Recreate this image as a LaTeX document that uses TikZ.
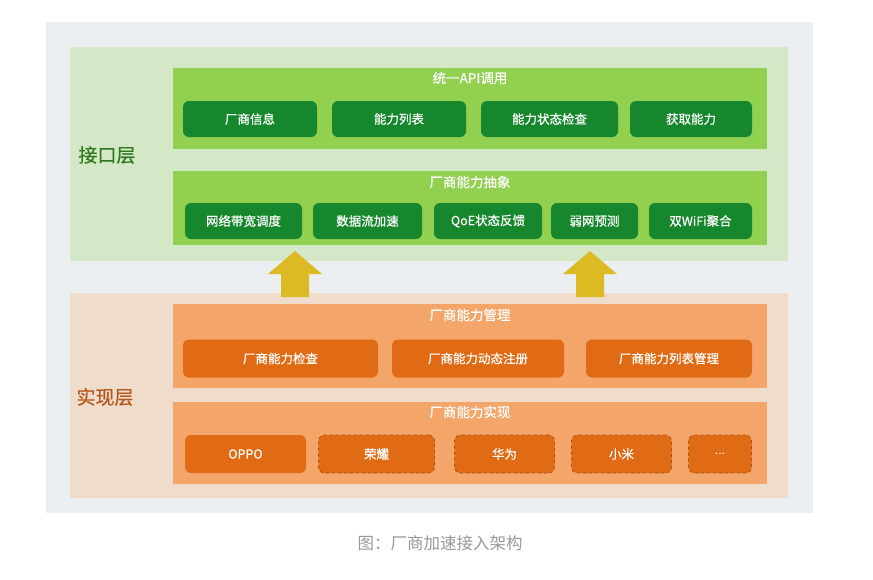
\documentclass[tikz,border=0pt]{standalone}
\usepackage{fontspec}
\setmainfont{Noto Sans CJK SC}
\newfontfamily\boxfont[FakeBold=0.6]{Noto Sans CJK SC}
\newfontfamily\dotfont{Liberation Sans}
\definecolor{pagegray}{HTML}{ECEFF1}
\definecolor{apilayer}{HTML}{D4E7C6}
\definecolor{apipanel}{HTML}{92D050}
\definecolor{apibox}{HTML}{17872D}
\definecolor{apitext}{HTML}{2F7A1F}
\definecolor{implayer}{HTML}{F0DCCB}
\definecolor{imppanel}{HTML}{F3A56A}
\definecolor{impbox}{HTML}{E06B14}
\definecolor{impdash}{HTML}{A9500F}
\definecolor{imptext}{HTML}{B4581A}
\definecolor{liftcol}{HTML}{DBBA24}
\tikzset{
  layer/.style={rectangle, inner sep=0pt},
  panel/.style={rectangle, inner sep=0pt},
  ptitle/.style={text=white, font=\boxfont\fontsize{13.5}{15}\selectfont, anchor=center},
  apicell/.style={rectangle, rounded corners=6pt, fill=apibox, text=white, minimum height=36pt, inner sep=0pt, font=\boxfont\fontsize{12.5}{14}\selectfont},
  impcell/.style={rectangle, rounded corners=6pt, fill=impbox, text=white, minimum height=38pt, inner sep=0pt, font=\boxfont\fontsize{12.5}{14}\selectfont},
  vendorcell/.style={impcell, draw=impdash, dashed, line width=0.8pt},
  layername/.style={font=\boxfont\fontsize{19}{22}\selectfont}
}
\begin{document}
\begin{tikzpicture}[x=1pt, y=-1pt]
    \useasboundingbox[fill=white] (0,0) rectangle (873,579);
    \fill[pagegray] (46,22) rectangle (813,513);

    % Layers
    \node[layer, fill=apilayer, minimum width=718pt, minimum height=214pt] (api) at (429,154) {};
    \node[layer, fill=implayer, minimum width=718pt, minimum height=205pt] (imp) at (429,395.5) {};
    \node[layername, text=apitext] (apiname) at (107,155) {接口层};
    \node[layername, text=imptext] (impname) at (105,397) {实现层};

    % Interface panels
    \node[panel, fill=apipanel, minimum width=594pt, minimum height=81pt] (call) at (470,108.5) {};
    \node[ptitle] (calltitle) at (470,78) {统一API调用};
    \node[apicell, minimum width=134pt] (info) at (250,119) {厂商信息};
    \node[apicell, minimum width=134pt] (list) at (399,119) {能力列表};
    \node[apicell, minimum width=137pt] (check) at (549.5,119) {能力状态检查};
    \node[apicell, minimum width=122pt] (fetch) at (691,119) {获取能力};

    \node[panel, fill=apipanel, minimum width=594pt, minimum height=74pt] (abs) at (470,208) {};
    \node[ptitle] (abstitle) at (470,182) {厂商能力抽象};
    \node[apicell, minimum width=117pt] (band) at (243.5,221) {网络带宽调度};
    \node[apicell, minimum width=109pt] (flow) at (367.5,221) {数据流加速};
    \node[apicell, minimum width=108pt] (qoe) at (488,221) {QoE状态反馈};
    \node[apicell, minimum width=87pt] (weak) at (594.5,221) {弱网预测};
    \node[apicell, minimum width=103pt] (wifi) at (700.5,221) {双WiFi聚合};

    % Implementation panels
    \node[panel, fill=imppanel, minimum width=594pt, minimum height=84pt] (mgr) at (470,346) {};
    \node[ptitle] (mgrtitle) at (470,315) {厂商能力管理};
    \node[impcell, minimum width=195pt] (vcheck) at (280.5,358.5) {厂商能力检查};
    \node[impcell, minimum width=172pt] (vreg) at (478,358.5) {厂商能力动态注册};
    \node[impcell, minimum width=166pt] (vlist) at (669,358.5) {厂商能力列表管理};

    \node[panel, fill=imppanel, minimum width=594pt, minimum height=82pt] (real) at (470,443) {};
    \node[ptitle] (realtitle) at (470,412) {厂商能力实现};
    \node[impcell, minimum width=121pt] (oppo) at (245.5,454) {OPPO};
    \node[vendorcell, minimum width=116pt] (honor) at (376.5,454) {荣耀};
    \node[vendorcell, minimum width=100pt] (huawei) at (504.5,454) {华为};
    \node[vendorcell, minimum width=100pt] (xiaomi) at (621.5,454) {小米};
    \node[vendorcell, minimum width=63pt] (more) at (720,454) {\dotfont ...};

    % Lift arrows
    \foreach \ax in {295,590}
      \fill[liftcol] (\ax-14,297) -- (\ax-14,274) -- (\ax-27,274) -- (\ax,251)
        -- (\ax+27,274) -- (\ax+14,274) -- (\ax+14,297) -- cycle;

    % Caption
    \node[text=black!40, font=\fontsize{16.5}{18}\selectfont] (caption) at (440,543) {图：厂商加速接入架构};
\end{tikzpicture}
\end{document}
